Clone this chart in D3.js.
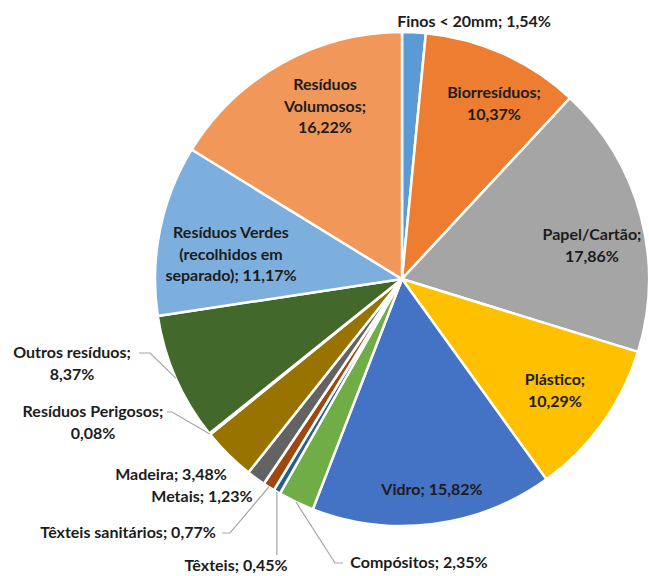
<!DOCTYPE html>
<html>
<head>
<meta charset="utf-8">
<script src="https://cdn.jsdelivr.net/npm/d3@7"></script>
<style>
    body { margin: 0; background: #fff; }
    #chart text { font-family: Lato, "Open Sans", sans-serif; font-weight: 700; font-size: 16px; fill: #1c1c1c; }
</style>
</head>
<body>
<svg id="chart"></svg>
<script>
// composition of waste, clockwise from 12 o'clock
let categories = ["Finos < 20mm", "Biorresíduos", "Papel/Cartão", "Plástico", "Vidro", "Compósitos",
    "Têxteis", "Têxteis sanitários", "Metais", "Madeira", "Resíduos Perigosos", "Outros resíduos",
    "Resíduos Verdes (recolhidos em separado)", "Resíduos Volumosos"];
let values = [1.54, 10.37, 17.86, 10.29, 15.82, 2.35, 0.45, 0.77, 1.23, 3.48, 0.08, 8.37, 11.17, 16.22];
let colors = ["#5B9BD5", "#ED7D31", "#A5A5A5", "#FFC000", "#4472C4", "#70AD47", "#255E91",
    "#9E480E", "#636363", "#997300", "#264478", "#43682B", "#7CAFDD", "#F1975A"];

// label placement: x,y = centre / baseline of first line, wrap = words per line, leader = elbow points
let labelLayout = [
    {x: 474, y: 27, wrap: [4]},
    {x: 494, y: 98, wrap: [1, 1]},
    {x: 592, y: 240, wrap: [1, 1]},
    {x: 555, y: 385, wrap: [1, 1]},
    {x: 432, y: 495, wrap: [3]},
    {x: 419, y: 568, wrap: [2], leader: [[335, 563], [343, 563]]},
    {x: 236, y: 571, wrap: [2], leader: "down", leaderEnd: 555},
    {x: 128, y: 538, wrap: [3], leader: [[230, 533], [222, 533]]},
    {x: 202, y: 502, wrap: [2]},
    {x: 171, y: 480, wrap: [2]},
    {x: 93, y: 417, wrap: [2, 1], leader: [[172, 412], [167, 412]]},
    {x: 72, y: 358, wrap: [2, 1], leader: [[150, 353], [139, 353]]},
    {x: 231, y: 238, wrap: [2, 2, 2]},
    {x: 325, y: 90, wrap: [1, 1, 1]}
];

let width = 649, height = 576;
let cx = 402, cy = 279, radius = 247, lineHeight = 21.5;

let svg = d3.select("#chart")
    .attr("width", width)
    .attr("height", height);

let pie = d3.pie().sort(null).value(d => d);
let arcs = pie(values);
let arc = d3.arc().innerRadius(0).outerRadius(radius);
let rim = d3.arc().innerRadius(radius).outerRadius(radius);

let fmt = v => d3.format(".2f")(v).replace(".", ",") + "%";

let g = svg.append("g").attr("transform", "translate(" + cx + "," + cy + ")");

g.selectAll("path.slice")
    .data(arcs)
    .enter()
    .append("path")
    .attr("class", "slice")
    .attr("d", arc)
    .attr("fill", (d, i) => colors[i])
    .attr("stroke", "#fff")
    .attr("stroke-width", 2.5)
    .attr("stroke-linejoin", "round");

// leader lines from the slice rim to the label
let line = d3.line();
arcs.forEach(function (d, i) {
    let lay = labelLayout[i];
    if (!lay.leader) return;
    let p = rim.centroid(d);
    p = [p[0] + cx, p[1] + cy];
    let pts;
    if (lay.leader === "down") {
        pts = [p, [p[0], lay.leaderEnd]];
    } else {
        pts = [p].concat(lay.leader);
    }
    svg.append("path")
        .attr("d", line(pts))
        .attr("fill", "none")
        .attr("stroke", "#A6A6A6")
        .attr("stroke-width", 1.2);
});

// labels
svg.selectAll("text.lbl")
    .data(arcs)
    .enter()
    .append("text")
    .attr("class", "lbl")
    .attr("text-anchor", "middle")
    .each(function (d, i) {
        let lay = labelLayout[i];
        let words = (categories[i] + "; " + fmt(values[i])).split(" ");
        let k = 0;
        let t = d3.select(this);
        lay.wrap.forEach(function (n, j) {
            t.append("tspan")
                .attr("x", lay.x)
                .attr("y", lay.y + j * lineHeight)
                .text(words.slice(k, k + n).join(" "));
            k += n;
        });
    });
</script>
</body>
</html>
